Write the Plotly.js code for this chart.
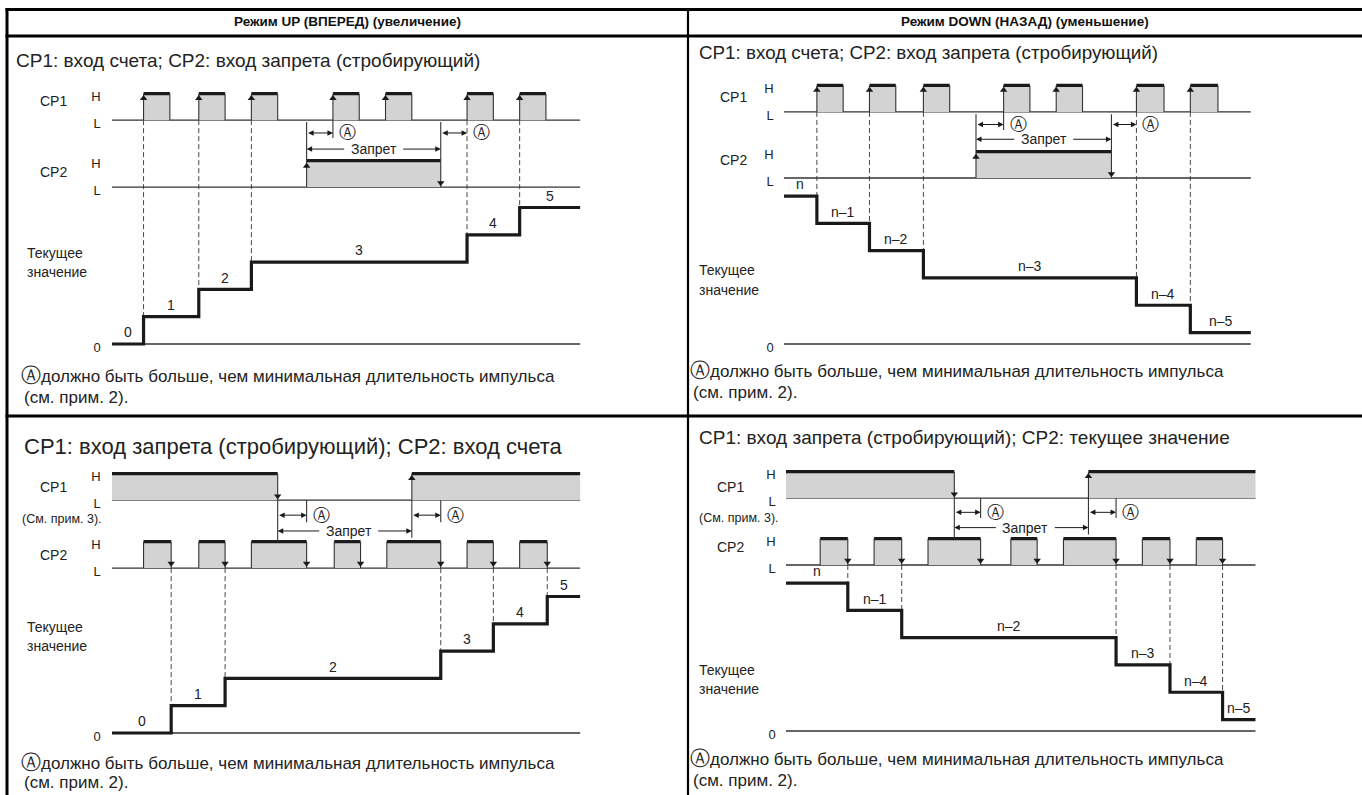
<!DOCTYPE html>
<html><head><meta charset="utf-8">
<script src="https://cdn.plot.ly/plotly-3.0.1.min.js"></script>
<style>html,body{margin:0;padding:0;background:#fff}#chart{width:1362px;height:795px}</style>
</head><body><div id="chart"></div>
<script>
// ================= DATA (time in units of half a pulse period) =================
const headerTexts = ['Режим UP (ВПЕРЕД) (увеличение)', 'Режим DOWN (НАЗАД) (уменьшение)'];
const subtitleTexts = [
  'CP1: вход счета; CP2: вход запрета (стробирующий)',
  'CP1: вход счета; CP2: вход запрета (стробирующий)',
  'CP1: вход запрета (стробирующий); CP2: вход счета',
  'CP1: вход запрета (стробирующий); CP2: текущее значение'
];
const markText = 'Ⓐ';
const footnoteLines = ['должно быть больше, чем минимальная длительность импульса', '(см. прим. 2).'];
const note3Text = '(См. прим. 3).';
const inhibitText = 'Запрет';
const valueTitle = ['Текущее', 'значение'];
const signalNames = ['CP1', 'CP2'];
const levelNames = ['L', 'H'];

// Panel 1: UP, CP1 counts, CP2 inhibits
const p1Cp1Rise = [1.2, 3.3, 5.3, 8.4, 10.4, 13.5, 15.5];
const p1Cp1Fall = [2.2, 4.3, 6.3, 9.4, 11.4, 14.5, 16.5];
const p1Inhibit = [7.4, 12.5];
const p1CountAt = [1.2, 3.3, 5.3, 13.5, 15.5];
const p1Values = [0, 1, 2, 3, 4, 5];
const p1ValueText = ['0', '1', '2', '3', '4', '5'];
const p1End = 17.8;

// Panel 2: DOWN, CP1 counts, CP2 inhibits (values relative to n)
const p2Cp1Rise = [1.25, 3.25, 5.3, 8.35, 10.35, 13.4, 15.45];
const p2Cp1Fall = [2.25, 4.25, 6.3, 9.35, 11.35, 14.45, 16.5];
const p2Inhibit = [7.3, 12.45];
const p2CountAt = [1.25, 3.25, 5.3, 13.4, 15.45];
const p2Values = [0, -1, -2, -3, -4, -5];
const p2ValueText = ['n', 'n–1', 'n–2', 'n–3', 'n–4', 'n–5'];
const p2End = 17.75;

// Panel 3: UP, CP1 inhibits (low), CP2 counts on falling edge
const p3Inhibit = [6.3, 11.4];
const p3Cp2Rise = [1.2, 3.3, 5.3, 8.45, 10.45, 13.5, 15.5];
const p3Cp2Fall = [2.25, 4.3, 7.4, 9.45, 12.5, 14.5, 16.55];
const p3CountAt = [2.25, 4.3, 12.5, 14.5, 16.55];
const p3Values = [0, 1, 2, 3, 4, 5];
const p3ValueText = ['0', '1', '2', '3', '4', '5'];
const p3End = 17.8;

// Panel 4: DOWN, CP1 inhibits (low), CP2 counts on falling edge
const p4Inhibit = [6.4, 11.5];
const p4Cp2Rise = [1.3, 3.35, 5.4, 8.55, 10.55, 13.55, 15.6];
const p4Cp2Fall = [2.35, 4.4, 7.4, 9.55, 12.55, 14.6, 16.6];
const p4CountAt = [2.35, 4.4, 12.55, 14.6, 16.6];
const p4Values = [0, -1, -2, -3, -4, -5];
const p4ValueText = ['n', 'n–1', 'n–2', 'n–3', 'n–4', 'n–5'];
const p4End = 17.85;

// ================= LAYOUT / STYLE =================
const W = 1362, H = 795;
const PX_T = 26.3;      // px per time unit
const PX_Y = 27.3;      // px per y unit (one count step)
const SIG_H = 0.97;     // H level height in y units
const GAP_PX = 28;      // half-gap left in the "Запрет" arrow for its label
const FONT = 'Liberation Sans, Arial, Helvetica, sans-serif';
const INK = '#1a1a1a', TXT = '#222', FILL = '#d3d3d3', THIN = '#333';

const panelCfg = [
  {n: 1, kind: 'A', x0: 112, base: 344, top: 74, bottom: 352, cp1: 8.2, cp2: 5.75, aY: 7.73, zY: 7.14, tickTo: 7.55, edgeTop: 8.13, nLevel: 0, standoff: 9,
   sub: [14, 61, 19], cpLbl: [38, 101, 172], tv: [25, 253, 272], foot: [19, 375, 397]},
  {n: 2, kind: 'A', x0: 784, base: 344, top: 68, bottom: 352, cp1: 8.5, cp2: 6.08, aY: 8.04, zY: 7.5, tickTo: 7.84, edgeTop: 8.42, nLevel: 5.42, standoff: 8,
   sub: [697, 53, 18.8], cpLbl: [718, 97, 160], tv: [697, 270, 290], foot: [688, 370, 392]},
  {n: 3, kind: 'B', x0: 112, base: 733, top: 460, bottom: 741, cp1: 8.53, cp2: 6.04, aY: 7.98, zY: 7.4, tickTo: 7.72, nLevel: 0, standoff: 9,
   sub: [22, 446, 22], cpLbl: [38, 487, 555], note3: [20, 519], tv: [25, 627, 646], foot: [19, 762, 782]},
  {n: 4, kind: 'B', x0: 786, base: 731, top: 458, bottom: 739, cp1: 8.53, cp2: 6.08, aY: 8.01, zY: 7.45, tickTo: 7.8, nLevel: 5.42, standoff: 8,
   sub: [697, 437, 19], cpLbl: [715, 487, 547], note3: [697, 518], tv: [697, 670, 689], foot: [688, 758, 780]}
];

const panelData = [
  {rise: p1Cp1Rise, fall: p1Cp1Fall, inhibit: p1Inhibit, countAt: p1CountAt, values: p1Values, valueText: p1ValueText, end: p1End},
  {rise: p2Cp1Rise, fall: p2Cp1Fall, inhibit: p2Inhibit, countAt: p2CountAt, values: p2Values, valueText: p2ValueText, end: p2End},
  {rise: p3Cp2Rise, fall: p3Cp2Fall, inhibit: p3Inhibit, countAt: p3CountAt, values: p3Values, valueText: p3ValueText, end: p3End},
  {rise: p4Cp2Rise, fall: p4Cp2Fall, inhibit: p4Inhibit, countAt: p4CountAt, values: p4Values, valueText: p4ValueText, end: p4End}
];

const traces = [], annotations = [], shapes = [];
const layout = {
  width: W, height: H, margin: {l: 0, r: 0, t: 0, b: 0}, showlegend: false,
  paper_bgcolor: '#fff', plot_bgcolor: 'rgba(0,0,0,0)',
  font: {family: FONT, color: TXT}, annotations, shapes, hovermode: false
};

function lines(xa, ya, xs, ys, color, width, dash, shape) {
  traces.push({type: 'scatter', mode: 'lines', x: xs, y: ys, xaxis: xa, yaxis: ya,
    line: {color: color, width: width, dash: dash || 'solid', shape: shape || 'linear'}, hoverinfo: 'skip'});
}
function segs(list) { // list of [x0,y0,x1,y1]
  const x = [], y = [];
  list.forEach(s => { x.push(s[0], s[2], null); y.push(s[1], s[3], null); });
  return {x, y};
}
function fillBlocks(xa, ya, starts, ends, lo, hi) {
  const x = [], y = [];
  starts.forEach((s, i) => { const e = ends[i]; x.push(s, s, e, e, s, null); y.push(lo, hi, hi, lo, lo, null); });
  traces.push({type: 'scatter', mode: 'lines', x, y, xaxis: xa, yaxis: ya, fill: 'toself', fillcolor: FILL,
    line: {width: 0, color: 'rgba(0,0,0,0)'}, hoverinfo: 'skip'});
  const tb = segs(starts.map((s, i) => [s, hi, ends[i], hi]));
  lines(xa, ya, tb.x, tb.y, INK, 3.2);
}
function marks(xa, ya, xs, ys, sym) {
  traces.push({type: 'scatter', mode: 'markers', x: xs, y: ys, xaxis: xa, yaxis: ya, cliponaxis: false,
    marker: {symbol: sym, size: 6.5, color: INK, line: {width: 0}}, hoverinfo: 'skip'});
}
function paperText(text, px, py, size, opts) {
  annotations.push(Object.assign({xref: 'paper', yref: 'paper', x: px / W, y: 1 - py / H, text: text, showarrow: false,
    xanchor: 'left', yanchor: 'middle', font: {size: size, color: TXT, family: FONT}}, opts || {}));
}
function arrow(xa, ya, from, to, y, side) {
  annotations.push({xref: xa, yref: ya, axref: xa, ayref: ya, x: to, y: y, ax: from, ay: y, text: '',
    showarrow: true, arrowhead: 2, arrowside: side, arrowsize: 1.1, arrowwidth: 1, arrowcolor: INK, standoff: 0, startstandoff: 0});
}

panelCfg.forEach((c, idx) => {
  const d = panelData[idx];
  const sfx = c.n === 1 ? '' : String(c.n);
  const xa = 'x' + sfx, ya = 'y' + sfx;
  const xr = [-0.05, d.end + 0.25];
  layout['xaxis' + sfx] = {domain: [(c.x0 + xr[0] * PX_T) / W, (c.x0 + xr[1] * PX_T) / W], range: xr,
    visible: false, fixedrange: true, anchor: ya};
  const cp1H = c.cp1 + SIG_H, cp2H = c.cp2 + SIG_H;
  layout['yaxis' + sfx] = {domain: [1 - c.bottom / H, 1 - c.top / H],
    range: [(c.base - c.bottom) / PX_Y, (c.base - c.top) / PX_Y], anchor: xa, fixedrange: true,
    showgrid: false, zeroline: false, showline: false, ticks: '',
    tickvals: [c.cp1, cp1H, c.cp2, cp2H, 0], ticktext: [levelNames[0], levelNames[1], levelNames[0], levelNames[1], '0'],
    tickfont: {size: 13, color: TXT, family: FONT}, ticklabelstandoff: c.standoff, ticklabelshift: 3};

  const lvl = d.values.map(v => c.nLevel + v);
  const segStart = [0].concat(d.countAt), segEnd = d.countAt.concat([d.end]);

  const bl = segs([[0, c.cp1, d.end, c.cp1], [0, c.cp2, d.end, c.cp2], [0, 0, d.end, 0]]);
  lines(xa, ya, bl.x, bl.y, THIN, 1.3);

  const countLine = c.kind === 'A' ? c.cp1 : c.cp2;
  const dg = segs(d.countAt.map((t, k) => [t, countLine, t, lvl[k]]));
  lines(xa, ya, dg.x, dg.y, THIN, 0.9, '5px,3px');

  const [i0, i1] = d.inhibit;
  let t0, t1;
  if (c.kind === 'A') {
    fillBlocks(xa, ya, d.rise, d.fall, c.cp1, cp1H);
    fillBlocks(xa, ya, [i0], [i1], c.cp2, cp2H);
    t0 = d.rise.find(t => t > i0); t1 = d.rise.find(t => t > i1);
    const e = segs(
      d.rise.map(t => [t, c.cp1, t, cp1H]).concat(d.fall.map(t => [t, c.cp1, t, cp1H]))
        .concat([[i0, c.cp2, i0, c.edgeTop], [i1, c.cp2, i1, c.edgeTop], [t0, c.cp1, t0, c.tickTo]]));
    lines(xa, ya, e.x, e.y, THIN, 1.1);
    marks(xa, ya, d.rise, d.rise.map(() => cp1H - 0.17), 'triangle-up');
    marks(xa, ya, [i0], [cp2H - 0.2], 'triangle-up');
    marks(xa, ya, [i1], [c.cp2 + 0.15], 'triangle-down');
  } else {
    fillBlocks(xa, ya, [0, i1], [i0, d.end], c.cp1, cp1H);
    fillBlocks(xa, ya, d.rise, d.fall, c.cp2, cp2H);
    t0 = d.fall.find(t => t > i0); t1 = d.fall.find(t => t > i1);
    const e = segs(
      d.rise.map(t => [t, c.cp2, t, cp2H]).concat(d.fall.map(t => [t, c.cp2, t, cp2H]))
        .concat([[i0, cp1H, i0, cp2H], [i1, cp1H, i1, c.zY - 0.25], [t0, c.cp1, t0, c.tickTo], [t1, c.cp1, t1, c.tickTo]]));
    lines(xa, ya, e.x, e.y, THIN, 1.1);
    marks(xa, ya, d.fall, d.fall.map(() => c.cp2 + 0.17), 'triangle-down');
    marks(xa, ya, [i0], [c.cp1 + 0.15], 'triangle-down');
    marks(xa, ya, [i1], [cp1H - 0.17], 'triangle-up');
  }
  // "A" minimum-width markers
  arrow(xa, ya, i0, t0, c.aY, 'end+start');
  arrow(xa, ya, i1, t1, c.aY, 'end+start');
  [t0, t1].forEach(t => annotations.push({xref: xa, yref: ya, x: t + 0.55, y: c.aY, text: markText, showarrow: false,
    borderpad: 0, font: {size: 17, color: TXT}}));

  // "Запрет" span: two arrows pointing outwards with the label in the gap
  const mid = (i0 + i1) / 2 + (c.kind === 'B' ? 0.15 : 0), gap = GAP_PX / PX_T;
  arrow(xa, ya, mid - gap, i0, c.zY, 'end');
  arrow(xa, ya, mid + gap, i1, c.zY, 'end');
  annotations.push({xref: xa, yref: ya, x: mid, y: c.zY, text: inhibitText, showarrow: false,
    borderpad: 0, font: {size: 14, color: TXT}});

  const sx = [0].concat(d.countAt, [d.end]);
  const sy = lvl.concat([lvl[lvl.length - 1]]);
  lines(xa, ya, sx, sy, INK, 3.2, 'solid', 'hv');
  d.valueText.forEach((t, k) => {
    annotations.push({xref: xa, yref: ya, x: (segStart[k] + segEnd[k]) / 2, y: lvl[k] + 0.43, text: t,
      showarrow: false, font: {size: 14, color: TXT}});
  });

  paperText(subtitleTexts[idx], c.sub[0], c.sub[1], c.sub[2]);
  paperText(signalNames[0], c.cpLbl[0], c.cpLbl[1], 14);
  paperText(signalNames[1], c.cpLbl[0], c.cpLbl[2], 14);
  if (c.note3) paperText(note3Text, c.note3[0], c.note3[1], 12.5);
  paperText(valueTitle[0], c.tv[0], c.tv[1], 14);
  paperText(valueTitle[1], c.tv[0], c.tv[2], 14);
  paperText('<span style="font-size:20px">' + markText + '</span>' + footnoteLines[0], c.foot[0], c.foot[1], 17);
  paperText(footnoteLines[1], c.foot[0] + 3, c.foot[2], 17);
});

paperText(headerTexts[0], 347, 22, 13.5, {xanchor: 'center', font: {size: 13.5, color: '#111', family: FONT, weight: 'bold'}});
paperText(headerTexts[1], 1025, 22, 13.5, {xanchor: 'center', font: {size: 13.5, color: '#111', family: FONT, weight: 'bold'}});

function rule(x0, y0, x1, y1, w) {
  shapes.push({type: 'line', xref: 'paper', yref: 'paper', x0: x0 / W, x1: x1 / W, y0: 1 - y0 / H, y1: 1 - y1 / H,
    line: {color: '#000', width: w}});
}
rule(5.5, 9.5, W, 9.5, 3);
rule(7, 8, 7, H, 3);
rule(5.5, 36, W, 36, 3);
rule(688, 8, 688, H, 2.2);
rule(5.5, 416, W, 416, 3);

Plotly.newPlot('chart', traces, layout, {staticPlot: true, displayModeBar: false});
</script></body></html>
